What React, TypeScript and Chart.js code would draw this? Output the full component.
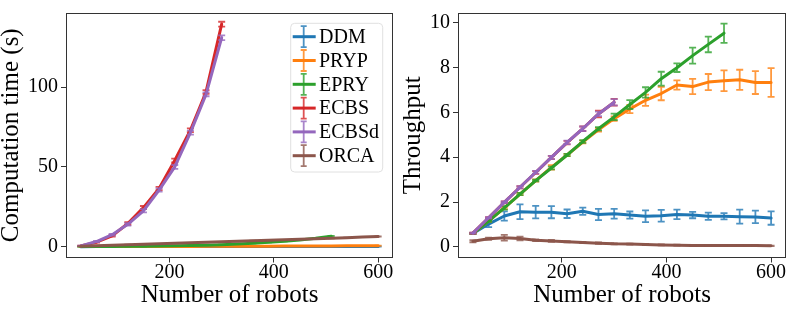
import React, { useEffect, useRef } from 'react';
import { Chart, registerables } from 'chart.js';

Chart.register(...registerables);

// ---------- data ----------
const robots = [30, 60, 90, 120, 150, 180, 210, 240, 270, 300, 330, 360, 390, 420, 450, 480, 510, 540, 570, 600];
const xTicks = [200, 400, 600];
const timeTicks = [0, 50, 100];
const throughputTicks = [0, 2, 4, 6, 8, 10];

const seriesNames = ['DDM', 'PRYP', 'EPRY', 'ECBS', 'ECBSd', 'ORCA'];
const seriesColors = ['#1f77b4', '#ff7f0e', '#2ca02c', '#d62728', '#9467bd', '#8c564b'];
const errorColors = ['rgba(31,119,180,0.8)', 'rgba(255,127,14,0.8)', 'rgba(44,160,44,0.8)', 'rgba(214,39,40,0.8)', 'rgba(148,103,189,0.8)', 'rgba(140,86,75,0.8)'];

// Computation time (s)
const timeDDM = [0.01, 0.02, 0.02, 0.03, 0.03, 0.04, 0.04, 0.05, 0.05, 0.06, 0.06, 0.07, 0.07, 0.08, 0.08, 0.09, 0.09, 0.1, 0.1, 0.11];
const timePRYP = [0.02, 0.04, 0.06, 0.08, 0.1, 0.12, 0.14, 0.17, 0.2, 0.23, 0.26, 0.29, 0.32, 0.35, 0.38, 0.42, 0.46, 0.5, 0.54, 0.58];
const timeEPRY = [0.05, 0.08, 0.12, 0.18, 0.25, 0.35, 0.5, 0.7, 0.95, 1.25, 1.6, 2.1, 2.7, 3.4, 4.2, 5.2, 6.5];
const timeECBS = [0.5, 2.8, 6.8, 14.5, 24.5, 36.5, 54, 73, 97, 139.5];
const timeECBSd = [0.5, 3.2, 7.5, 14, 22.5, 35.5, 50, 71.5, 95.5, 131];
const timeORCA = [0.3, 0.6, 0.9, 1.2, 1.5, 1.8, 2.1, 2.4, 2.7, 3.0, 3.4, 3.7, 4.0, 4.3, 4.6, 4.9, 5.2, 5.6, 6.0, 6.4];

const timeErrDDM = [0, 0, 0, 0, 0, 0, 0, 0, 0, 0, 0, 0, 0, 0, 0, 0, 0, 0, 0, 0];
const timeErrPRYP = [0, 0, 0, 0, 0, 0, 0, 0, 0, 0, 0, 0, 0, 0, 0, 0, 0, 0, 0, 0];
const timeErrEPRY = [0, 0, 0, 0, 0, 0, 0, 0, 0, 0, 0, 0, 0, 0.1, 0.1, 0.1, 0.2];
const timeErrECBS = [0.1, 0.3, 0.5, 0.8, 1, 1, 1.2, 1.2, 1.2, 1.5];
const timeErrECBSd = [0.1, 0.3, 0.5, 0.8, 1, 1, 1.2, 1.2, 1.2, 1.5];
const timeErrORCA = [0, 0, 0, 0, 0, 0, 0, 0, 0, 0, 0, 0, 0, 0, 0, 0, 0, 0, 0, 0.1];

// Throughput
const tpDDM = [0.6, 1.02, 1.38, 1.57, 1.55, 1.55, 1.48, 1.59, 1.45, 1.48, 1.42, 1.37, 1.39, 1.45, 1.42, 1.37, 1.37, 1.35, 1.34, 1.29];
const tpPRYP = [0.6, 1.15, 1.74, 2.36, 2.96, 3.55, 4.1, 4.68, 5.22, 5.72, 6.15, 6.54, 6.84, 7.22, 7.15, 7.35, 7.41, 7.45, 7.33, 7.33];
const tpEPRY = [0.6, 1.15, 1.74, 2.36, 2.96, 3.52, 4.1, 4.7, 5.27, 5.8, 6.35, 6.89, 7.5, 7.99, 8.53, 9.03, 9.53];
const tpECBS = [0.62, 1.3, 1.99, 2.66, 3.32, 3.99, 4.65, 5.27, 5.93, 6.45];
const tpECBSd = [0.62, 1.3, 1.99, 2.66, 3.33, 3.99, 4.66, 5.27, 5.93, 6.45];
const tpORCA = [0.25, 0.37, 0.41, 0.38, 0.3, 0.27, 0.23, 0.2, 0.17, 0.14, 0.13, 0.11, 0.09, 0.08, 0.07, 0.07, 0.06, 0.06, 0.06, 0.05];

const tpErrDDM = [0.03, 0.14, 0.21, 0.33, 0.28, 0.27, 0.19, 0.16, 0.25, 0.22, 0.16, 0.26, 0.26, 0.21, 0.14, 0.16, 0.14, 0.31, 0.28, 0.3];
const tpErrPRYP = [0.02, 0.03, 0.05, 0.05, 0.05, 0.1, 0.05, 0.06, 0.08, 0.1, 0.18, 0.25, 0.3, 0.21, 0.34, 0.36, 0.46, 0.45, 0.51, 0.64];
const tpErrEPRY = [0.02, 0.03, 0.08, 0.05, 0.04, 0.06, 0.05, 0.06, 0.07, 0.14, 0.2, 0.23, 0.31, 0.19, 0.36, 0.35, 0.43];
const tpErrECBS = [0.02, 0.03, 0.04, 0.05, 0.06, 0.07, 0.08, 0.1, 0.15, 0.15];
const tpErrECBSd = [0.02, 0.03, 0.04, 0.05, 0.06, 0.07, 0.08, 0.1, 0.1, 0.14];
const tpErrORCA = [0.05, 0.05, 0.13, 0.08, 0.04, 0.04, 0.03, 0.03, 0.03, 0.02, 0.02, 0.03, 0.02, 0.02, 0.01, 0.01, 0.01, 0.01, 0.01, 0.01];

const FONT = '"Liberation Serif", "Times New Roman", serif';

function buildDatasets(values: number[][], errors: number[][]) {
  const n = values.length;
  return values.map((vals, i) => ({
    label: seriesNames[i],
    data: vals.map((v, j) => ({ x: robots[j], y: v })),
    errors: errors[i],
    errorColor: errorColors[i],
    borderColor: seriesColors[i],
    backgroundColor: seriesColors[i],
    borderWidth: 3,
    pointRadius: 0,
    pointHoverRadius: 0,
    tension: 0,
    fill: false,
    borderJoinStyle: 'round',
    borderCapStyle: 'round',
    order: n - i,
  }));
}

const errorBarPlugin = {
  id: 'errorBars',
  afterDatasetDraw(chart: any, args: any) {
    const ds = chart.data.datasets[args.index];
    const errs: number[] = ds.errors || [];
    const yScale = chart.scales.y;
    const ctx = chart.ctx;
    const area = chart.chartArea;
    ctx.save();
    ctx.beginPath();
    ctx.rect(area.left, area.top, area.right - area.left, area.bottom - area.top);
    ctx.clip();
    ctx.strokeStyle = ds.errorColor;
    ctx.lineWidth = 1.8;
    args.meta.data.forEach((el: any, j: number) => {
      const e = errs[j] || 0;
      const v = ds.data[j].y;
      const x = el.x;
      const yt = yScale.getPixelForValue(v + e);
      const yb = yScale.getPixelForValue(v - e);
      const cap = 3.5;
      ctx.beginPath();
      ctx.moveTo(x, yt);
      ctx.lineTo(x, yb);
      ctx.moveTo(x - cap, yt);
      ctx.lineTo(x + cap, yt);
      ctx.moveTo(x - cap, yb);
      ctx.lineTo(x + cap, yb);
      ctx.stroke();
    });
    ctx.restore();
  },
};

const framePlugin = {
  id: 'frame',
  afterDatasetsDraw(chart: any) {
    const { ctx, chartArea: a } = chart;
    ctx.save();
    ctx.strokeStyle = '#333333';
    ctx.lineWidth = 1;
    ctx.strokeRect(Math.round(a.left) + 0.5, Math.round(a.top) + 0.5, Math.round(a.right - a.left) - 1, Math.round(a.bottom - a.top) - 1);
    ctx.restore();
  },
};

const boxLegendPlugin = {
  id: 'boxLegend',
  afterDraw(chart: any) {
    const opts = chart.options.plugins.boxLegend;
    if (!opts || !opts.display) return;
    const { ctx, chartArea } = chart;
    const w = 92;
    const h = 148.7;
    const bx = chartArea.right - 10.3 - w;
    const by = chartArea.top + 10.3;
    ctx.save();
    ctx.beginPath();
    ctx.roundRect(bx, by, w, h, 4);
    ctx.fillStyle = 'rgba(255,255,255,0.8)';
    ctx.fill();
    ctx.strokeStyle = '#e0e0e0';
    ctx.lineWidth = 1;
    ctx.stroke();
    ctx.font = '20px ' + FONT;
    ctx.textBaseline = 'middle';
    ctx.textAlign = 'left';
    chart.data.datasets.forEach((ds: any, i: number) => {
      const cy = by + 13.4 + i * 23.8;
      const mx = bx + 13;
      ctx.strokeStyle = ds.borderColor;
      ctx.lineWidth = 3;
      ctx.beginPath();
      ctx.moveTo(bx + 2, cy);
      ctx.lineTo(bx + 25, cy);
      ctx.stroke();
      ctx.strokeStyle = ds.errorColor;
      ctx.lineWidth = 1.8;
      ctx.beginPath();
      ctx.moveTo(mx, cy - 10.5);
      ctx.lineTo(mx, cy + 10.5);
      ctx.moveTo(mx - 3, cy - 10.5);
      ctx.lineTo(mx + 3, cy - 10.5);
      ctx.moveTo(mx - 3, cy + 10.5);
      ctx.lineTo(mx + 3, cy + 10.5);
      ctx.stroke();
      ctx.fillStyle = '#000';
      ctx.fillText(ds.label, bx + 28.3, cy + 1);
    });
    ctx.restore();
  },
};

function makeConfig(opts: {
  datasets: any[];
  yMin: number;
  yMax: number;
  yTicks: number[];
  yTitle: string;
  yAxisWidth: number;
  yTitlePad: number;
  rightPad: number;
  legend: boolean;
}) {
  return {
    type: 'line',
    data: { datasets: opts.datasets },
    options: {
      animation: false,
      responsive: false,
      devicePixelRatio: 1,
      layout: { padding: { top: 3, right: opts.rightPad, left: 0, bottom: 0 } },
      plugins: {
        legend: { display: false },
        tooltip: { enabled: false },
        boxLegend: { display: opts.legend },
      },
      scales: {
        x: {
          type: 'linear',
          min: 1.5,
          max: 628.5,
          afterBuildTicks: (s: any) => {
            s.ticks = xTicks.map((v) => ({ value: v }));
          },
          afterFit: (s: any) => {
            s.height = 55.5;
          },
          ticks: { font: { family: FONT, size: 20, lineHeight: 1 }, color: '#000', padding: 0, maxRotation: 0, autoSkip: false },
          grid: { drawOnChartArea: false, drawTicks: true, tickLength: 5, color: '#333333', lineWidth: 1 },
          border: { display: false },
          title: { display: true, text: 'Number of robots', color: '#000', font: { family: FONT, size: 25, lineHeight: 1 }, padding: { top: 0, bottom: 5 } },
        },
        y: {
          type: 'linear',
          min: opts.yMin,
          max: opts.yMax,
          afterBuildTicks: (s: any) => {
            s.ticks = opts.yTicks.map((v) => ({ value: v }));
          },
          afterFit: (s: any) => {
            s.width = opts.yAxisWidth;
          },
          ticks: { font: { family: FONT, size: 20, lineHeight: 1 }, color: '#000', padding: 3, autoSkip: false },
          grid: { drawOnChartArea: false, drawTicks: true, tickLength: 5, color: '#333333', lineWidth: 1 },
          border: { display: false },
          title: { display: true, text: opts.yTitle, color: '#000', font: { family: FONT, size: 25, lineHeight: 0.92 }, padding: { top: opts.yTitlePad, bottom: 0 } },
        },
      },
    },
    plugins: [errorBarPlugin, framePlugin, boxLegendPlugin],
  };
}

export default function App() {
  const leftRef = useRef<HTMLCanvasElement | null>(null);
  const rightRef = useRef<HTMLCanvasElement | null>(null);

  useEffect(() => {
    const left = new Chart(
      leftRef.current as HTMLCanvasElement,
      makeConfig({
        datasets: buildDatasets(
          [timeDDM, timePRYP, timeEPRY, timeECBS, timeECBSd, timeORCA],
          [timeErrDDM, timeErrPRYP, timeErrEPRY, timeErrECBS, timeErrECBSd, timeErrORCA]
        ),
        yMin: -6.8,
        yMax: 146.5,
        yTicks: timeTicks,
        yTitle: 'Computation time (s)',
        yAxisWidth: 66,
        yTitlePad: 0,
        rightPad: 2,
        legend: true,
      }) as any
    );
    const right = new Chart(
      rightRef.current as HTMLCanvasElement,
      makeConfig({
        datasets: buildDatasets(
          [tpDDM, tpPRYP, tpEPRY, tpECBS, tpECBSd, tpORCA],
          [tpErrDDM, tpErrPRYP, tpErrEPRY, tpErrECBS, tpErrECBSd, tpErrORCA]
        ),
        yMin: -0.47,
        yMax: 10.43,
        yTicks: throughputTicks,
        yTitle: 'Throughput',
        yAxisWidth: 63,
        yTitlePad: 6.8,
        rightPad: 3,
        legend: false,
      }) as any
    );
    return () => {
      left.destroy();
      right.destroy();
    };
  }, []);

  return (
    <div style={{ position: 'fixed', left: 0, top: 0, width: 789, height: 313, background: '#fff' }}>
      <canvas ref={leftRef} width={395} height={313} style={{ position: 'absolute', left: 0, top: 0, width: 395, height: 313 }} />
      <canvas ref={rightRef} width={394} height={313} style={{ position: 'absolute', left: 395, top: 0, width: 394, height: 313 }} />
    </div>
  );
}
